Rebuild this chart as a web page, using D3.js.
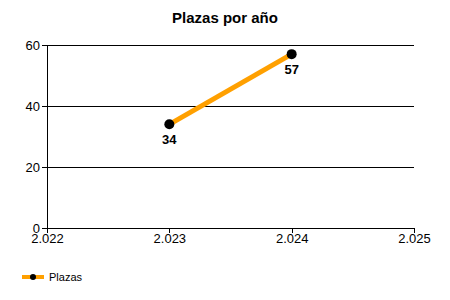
<!DOCTYPE html>
<html>
<head>
<meta charset="utf-8">
<script src="https://cdn.jsdelivr.net/npm/d3@7"></script>
<style>
  body { margin: 0; background: #fff; }
  svg { font-family: "Liberation Sans", Arial, sans-serif; }
</style>
</head>
<body>
<svg id="chart" width="450" height="300"></svg>
<script>
// data
const years = [2023, 2024];
const plazas = [34, 57];
const xTicks = [2022, 2023, 2024, 2025];
const yTicks = [0, 20, 40, 60];
const title = "Plazas por año";
const seriesName = "Plazas";

const es = d3.formatLocale({ decimal: ",", thousands: ".", grouping: [3], currency: ["", " €"] });
const fmt = es.format(",d");

const svg = d3.select("#chart");
const margin = { left: 47, right: 36, top: 45, bottom: 72 };
const width = 450 - margin.left - margin.right;
const height = 300 - margin.top - margin.bottom;

const g = svg.append("g").attr("transform", `translate(${margin.left},${margin.top})`);

const x = d3.scaleLinear().domain([2022, 2025]).range([0, width]);
const y = d3.scaleLinear().domain([0, 60]).range([height, 0]);

// title
svg.append("text")
    .attr("x", 225)
    .attr("y", 23)
    .attr("text-anchor", "middle")
    .style("font-weight", "bold")
    .style("font-size", "15px")
    .text(title);

// gridlines
g.selectAll(".grid")
    .data(yTicks.filter(d => d > 0))
    .enter().append("line")
    .attr("x1", 0).attr("x2", width)
    .attr("y1", d => y(d)).attr("y2", d => y(d))
    .attr("stroke", "#000").attr("stroke-width", 1)
    .attr("shape-rendering", "crispEdges");

// axes
const yAxis = g.append("g")
    .call(d3.axisLeft(y).tickValues(yTicks).tickSize(5).tickPadding(2).tickFormat(d3.format("d")));
const xAxis = g.append("g")
    .attr("transform", `translate(0,${height})`)
    .call(d3.axisBottom(x).tickValues(xTicks).tickSize(5).tickPadding(1).tickFormat(fmt));

[yAxis, xAxis].forEach(a => {
    a.selectAll("path,line").attr("stroke", "#000").attr("shape-rendering", "crispEdges");
    a.selectAll("text").attr("fill", "#000").style("font-size", "13px").attr("font-family", null);
});
yAxis.select(".domain").attr("d", `M0,${height}V0`);
xAxis.select(".domain").attr("d", `M0,0H${width}`);

// line
const pts = years.map((yr, i) => ({ year: yr, value: plazas[i] }));
const line = d3.line().x(d => x(d.year)).y(d => y(d.value));

g.append("path")
    .datum(pts)
    .attr("fill", "none")
    .attr("stroke", "#ffa000")
    .attr("stroke-width", 5)
    .attr("d", line);

g.selectAll(".pt")
    .data(pts)
    .enter().append("circle")
    .attr("cx", d => x(d.year))
    .attr("cy", d => y(d.value))
    .attr("r", 5)
    .attr("fill", "#000");

g.selectAll(".lbl")
    .data(pts)
    .enter().append("text")
    .attr("x", d => x(d.year))
    .attr("y", d => y(d.value) + 20)
    .attr("text-anchor", "middle")
    .style("font-weight", "bold")
    .style("font-size", "13px")
    .text(d => d.value);

// legend
const leg = svg.append("g").attr("transform", "translate(22,277)");
leg.append("line").attr("x1", 0).attr("x2", 22).attr("y1", 0).attr("y2", 0)
    .attr("stroke", "#ffa000").attr("stroke-width", 4);
leg.append("circle").attr("cx", 11).attr("cy", 0).attr("r", 3).attr("fill", "#000");
leg.append("text").attr("x", 27).attr("y", 4).style("font-size", "11px").text(seriesName);
</script>
</body>
</html>
